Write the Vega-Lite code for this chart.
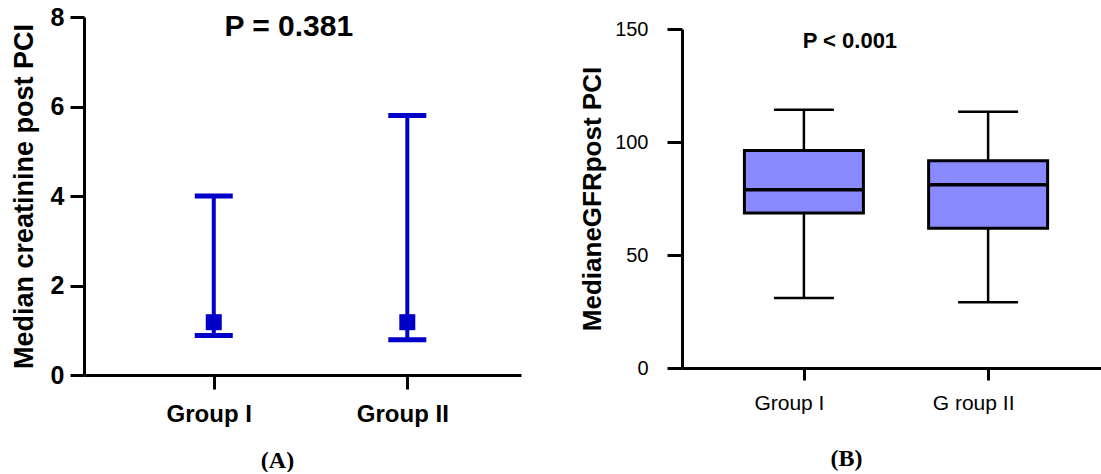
{
  "$schema": "https://vega.github.io/schema/vega-lite/v6.json",
  "background": "white",
  "padding": {"left": 10, "top": 5, "right": 0, "bottom": 0},
  "columns": 2,
  "align": "none",
  "spacing": 58,
  "config": {
    "view": {"stroke": null},
    "axis": {"grid": false, "domainColor": "black", "tickColor": "black", "labelColor": "black", "titleColor": "black", "domainWidth": 3, "tickWidth": 3}
  },
  "concat": [
    {
      "width": 437,
      "height": 358,
      "data": {"values": [
        {"group": "Group I", "median": 1.18, "lower": 0.88, "upper": 4.0},
        {"group": "Group II", "median": 1.18, "lower": 0.79, "upper": 5.8}
      ]},
      "encoding": {
        "x": {"field": "group", "type": "nominal", "sort": null,
          "scale": {"type": "point", "padding": 0.629, "align": 0.533},
          "axis": {"title": "(A)", "titleFont": "Liberation Serif", "titleFontSize": 24, "titleFontWeight": "bold", "titleX": 193, "titleY": 92, "titleAlign": "center", "titleBaseline": "alphabetic",
            "labelFont": "Liberation Sans", "labelFontSize": 24, "labelFontWeight": "bold", "labelAngle": 0, "labelPadding": 13, "labelOffset": -5, "tickSize": 14}}
      },
      "layer": [
        {"mark": {"type": "rule", "color": "#0000C8", "strokeWidth": 4},
         "encoding": {
           "y": {"field": "lower", "type": "quantitative", "scale": {"domain": [0, 8], "nice": false},
             "axis": {"title": "Median creatinine post PCI", "titleFont": "Liberation Sans", "titleFontSize": 27, "titleFontWeight": "bold", "titlePadding": 12,
               "labelFont": "Liberation Sans", "labelFontSize": 25, "labelFontWeight": "bold", "values": [0, 2, 4, 6, 8], "tickSize": 14, "labelPadding": 6}},
           "y2": {"field": "upper"}}},
        {"mark": {"type": "tick", "color": "#0000C8", "size": 38, "thickness": 5, "opacity": 1},
         "encoding": {"y": {"field": "lower", "type": "quantitative"}}},
        {"mark": {"type": "tick", "color": "#0000C8", "size": 38, "thickness": 5, "opacity": 1},
         "encoding": {"y": {"field": "upper", "type": "quantitative"}}},
        {"mark": {"type": "square", "color": "#0000C8", "size": 256, "filled": true, "opacity": 1},
         "encoding": {"y": {"field": "median", "type": "quantitative"}}},
        {"data": {"values": [{"label": "P = 0.381"}]},
         "mark": {"type": "text", "font": "Liberation Sans", "fontSize": 30, "fontWeight": "bold", "color": "black", "align": "center", "baseline": "alphabetic", "dx": 75},
         "encoding": {"x": {"datum": "Group I", "type": "nominal"}, "y": {"datum": 7.575, "type": "quantitative"}, "text": {"field": "label"}}}
      ]
    },
    {
      "width": 420,
      "height": 351,
      "data": {"values": [
        {"group": "Group I", "lower": 31, "q1": 68.6, "median": 78.9, "q3": 96.2, "upper": 114.3},
        {"group": "G roup II", "lower": 29.1, "q1": 61.8, "median": 81.1, "q3": 91.7, "upper": 113.4}
      ]},
      "encoding": {
        "x": {"field": "group", "type": "nominal", "sort": null,
          "scale": {"type": "point", "padding": 0.64, "align": 0.517},
          "axis": {"title": "(B)", "titleFont": "Liberation Serif", "titleFontSize": 24, "titleFontWeight": "bold", "titleX": 164, "titleY": 97, "titleAlign": "center", "titleBaseline": "alphabetic",
            "labelFont": "Liberation Sans", "labelFontSize": 21, "labelFontWeight": "normal", "labelAngle": 0, "labelPadding": 12, "labelOffset": -15, "tickSize": 12}}
      },
      "layer": [
        {"mark": {"type": "rule", "color": "black", "strokeWidth": 2.5},
         "encoding": {
           "y": {"field": "lower", "type": "quantitative", "scale": {"domain": [0, 150], "nice": false, "range": [351, 12]},
             "axis": {"title": "MedianeGFRpost PCI", "titleFont": "Liberation Sans", "titleFontSize": 26, "titleFontWeight": "bold", "titlePadding": 9,
               "labelFont": "Liberation Sans", "labelFontSize": 20, "values": [0, 50, 100, 150], "tickSize": 15, "labelPadding": 19}},
           "y2": {"field": "upper"}}},
        {"mark": {"type": "tick", "color": "black", "size": 60, "thickness": 2.5, "opacity": 1},
         "encoding": {"y": {"field": "lower", "type": "quantitative"}}},
        {"mark": {"type": "tick", "color": "black", "size": 60, "thickness": 2.5, "opacity": 1},
         "encoding": {"y": {"field": "upper", "type": "quantitative"}}},
        {"mark": {"type": "bar", "width": 119, "fill": "#8A8AFF", "stroke": "black", "strokeWidth": 3, "opacity": 1},
         "encoding": {"y": {"field": "q1", "type": "quantitative"}, "y2": {"field": "q3"}}},
        {"mark": {"type": "tick", "color": "black", "size": 119, "thickness": 3.5, "opacity": 1},
         "encoding": {"y": {"field": "median", "type": "quantitative"}}},
        {"data": {"values": [{"label": "P < 0.001"}]},
         "mark": {"type": "text", "font": "Liberation Sans", "fontSize": 22, "fontWeight": "bold", "color": "black", "align": "center", "baseline": "alphabetic", "dx": 46},
         "encoding": {"x": {"datum": "Group I", "type": "nominal"}, "y": {"datum": 141.6, "type": "quantitative"}, "text": {"field": "label"}}}
      ]
    }
  ]
}
